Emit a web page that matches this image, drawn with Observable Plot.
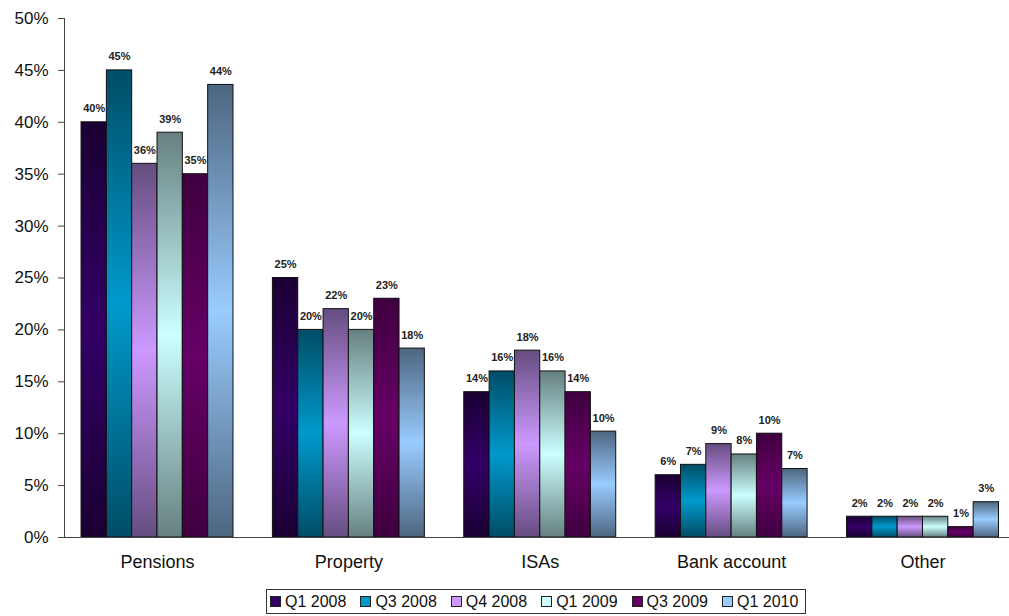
<!DOCTYPE html>
<html>
<head>
<meta charset="utf-8">
<script src="https://cdn.jsdelivr.net/npm/d3@7"></script>
<script src="https://cdn.jsdelivr.net/npm/@observablehq/plot@0.6"></script>
<style>
  body { margin: 0; background: #fff; font-family: "Liberation Sans", Arial, sans-serif; }
  #legend { display: inline-flex; align-items: center; border: 1px solid #333; padding: 2px 7px 2px 3px; margin-left: 266px; margin-top: 9px; font-size: 16px; line-height: 19px; color: #111; }
  .item { display: inline-flex; align-items: center; margin-right: 14px; }
  .item:last-child { margin-right: 0; }
  .sw { width: 9px; height: 9px; border: 1px solid #222; margin-right: 4px; }
</style>
</head>
<body>
<div id="chart"></div>
<div id="legend"></div>
<script>
const categories = ["Pensions", "Property", "ISAs", "Bank account", "Other"];
const series = ["Q1 2008", "Q3 2008", "Q4 2008", "Q1 2009", "Q3 2009", "Q1 2010"];
const q1_2008 = [40, 25, 14, 6, 2];
const q3_2008 = [45, 20, 16, 7, 2];
const q4_2008 = [36, 22, 18, 9, 2];
const q1_2009 = [39, 20, 16, 8, 2];
const q3_2009 = [35, 23, 14, 10, 1];
const q1_2010 = [43.6, 18.2, 10.2, 6.6, 3.4];
const yTicks = [0, 5, 10, 15, 20, 25, 30, 35, 40, 45, 50];

const seriesValues = [q1_2008, q3_2008, q4_2008, q1_2009, q3_2009, q1_2010];
const midColors = ["#330066", "#0099cc", "#cc99ff", "#ccffff", "#660066", "#99ccff"];
const edgeColors = ["#1a0033", "#004d66", "#664d80", "#668080", "#400040", "#4d6680"];

const groupWidth = 0.794;
const barW = groupWidth / series.length;
const data = [];
categories.forEach((cat, i) => {
  series.forEach((s, j) => {
    const x1 = i - groupWidth / 2 + j * barW;
    data.push({cat, series: s, value: seriesValues[j][i], x1, x2: x1 + barW, xm: x1 + barW / 2});
  });
});

const chart = Plot.plot({
  width: 1009,
  height: 580,
  marginLeft: 64,
  marginRight: 0,
  marginTop: 18,
  marginBottom: 43,
  style: {fontFamily: "'Liberation Sans', Arial, sans-serif", color: "#111", background: "#fff"},
  x: {type: "linear", domain: [-0.486, 4.452], axis: null},
  y: {type: "linear", domain: [0, 50], axis: null},
  color: {type: "ordinal", domain: series, range: series.map((_, j) => `url(#grad${j})`)},
  marks: [
    Plot.rectY(data, {x1: "x1", x2: "x2", y1: 0, y2: "value", fill: "series", stroke: "#111", strokeWidth: 1}),
    Plot.text(data, {x: "xm", y: "value", text: d => Math.round(d.value) + "%", dy: -10, lineAnchor: "bottom", fontWeight: "bold", fontSize: 11, fill: "#222"}),
    Plot.frame({anchor: "left", stroke: "#444"}),
    Plot.ruleY([0], {stroke: "#444"}),
    Plot.axisY({ticks: yTicks, tickSize: 6, tickPadding: 10, tickFormat: d => d + "%", label: null, fontSize: 17, stroke: "#444"}),
    Plot.axisX({ticks: [0, 1, 2, 3, 4], tickFormat: i => categories[i], tickSize: 0, tickPadding: 18, label: null, fontSize: 18})
  ]
});

const defs = d3.select(chart).insert("defs", ":first-child");
series.forEach((s, j) => {
  const g = defs.append("linearGradient").attr("id", `grad${j}`).attr("x1", 0).attr("y1", 0).attr("x2", 0).attr("y2", 1);
  g.append("stop").attr("offset", "0%").attr("stop-color", edgeColors[j]);
  g.append("stop").attr("offset", "50%").attr("stop-color", midColors[j]);
  g.append("stop").attr("offset", "100%").attr("stop-color", edgeColors[j]);
});

document.getElementById("chart").appendChild(chart);

const legend = d3.select("#legend");
series.forEach((s, j) => {
  const it = legend.append("span").attr("class", "item");
  it.append("span").attr("class", "sw").style("background", midColors[j]);
  it.append("span").text(s);
});
</script>
</body>
</html>
